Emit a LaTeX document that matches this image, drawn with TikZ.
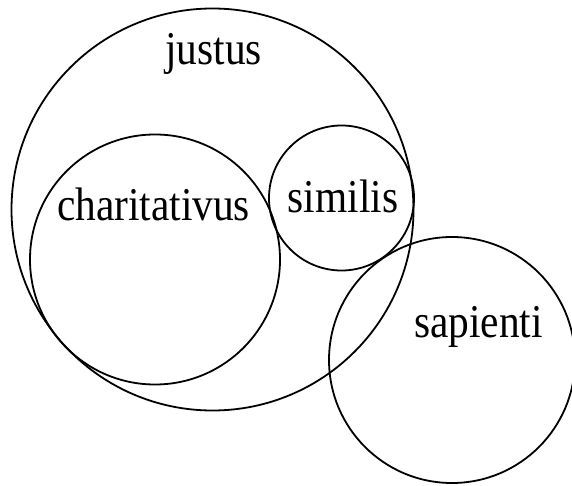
\documentclass[tikz,border=0pt]{standalone}
\usepackage{fontspec}
\setmainfont[FakeStretch=0.88]{Liberation Serif}

\begin{document}
\begin{tikzpicture}[x=1pt,y=-1pt,
  set/.style={draw=black,circle,line width=1.8pt,inner sep=0pt},
  word/.style={anchor=base,inner sep=0pt,font=\fontsize{47}{50}\selectfont}]
\useasboundingbox (0,0) rectangle (572,486);

% the four sets, as circles of given diameter
\node[set,minimum size=402pt] (justus) at (212.5,209.5) {};
\node[set,minimum size=250pt] (charitativus) at (155,259.5) {};
\node[set,minimum size=145pt] (similis) at (341.5,198) {};
\node[set,minimum size=246pt] (sapienti) at (452,360) {};

% their names
\node[word] (justuslabel) at (213.5,65) {justus};
\node[word] (charitativuslabel) at (153.5,220) {charitativus};
\node[word] (similislabel) at (343,213) {similis};
\node[word] (sapientilabel) at (478.5,337) {sapienti};
\end{tikzpicture}
\end{document}
